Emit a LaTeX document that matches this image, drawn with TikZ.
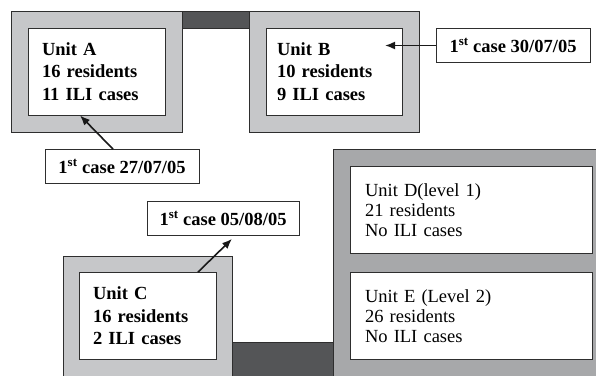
\documentclass[tikz,border=0pt]{standalone}
\usepackage{fontspec}
\setmainfont{Liberation Serif}
\usetikzlibrary{arrows.meta}
\definecolor{wing}{HTML}{C6C7C9}
\definecolor{block}{HTML}{A7A8AA}
\definecolor{link}{HTML}{545557}
\definecolor{edge}{HTML}{2E2E2E}

\begin{document}
\begin{tikzpicture}[x=1pt,y=-1pt,
    wall/.style={draw=edge, line width=0.8pt},
    unitbox/.style={draw=edge, line width=0.8pt, fill=white, inner ysep=0pt, align=left,
        minimum height=87pt, font=\fontsize{18.5}{22.5}\selectfont\bfseries},
    levelbox/.style={unitbox, font=\fontsize{18.5}{20}\selectfont},
    casebox/.style={draw=edge, line width=0.8pt, fill=white, inner sep=0pt,
        minimum height=34pt, font=\fontsize{18.5}{20}\selectfont\bfseries},
    arr/.style={-{Latex[length=10pt,width=8pt]}, line width=1.6pt, draw=black!90}]
    \useasboundingbox (0,0) rectangle (596,375);
    \clip (0,0) rectangle (596,375);
    \fill[white] (0,0) rectangle (596,375);
    % building outline
    \draw[wall, fill=wing] (11,11) rectangle (182,132);
    \draw[wall, fill=link] (182,11) rectangle (249,28);
    \draw[wall, fill=wing] (249,11) rectangle (419,132);
    \draw[wall, fill=wing] (63,256) rectangle (232,380);
    \draw[wall, fill=link] (232,342) rectangle (334,380);
    \draw[wall, fill=block] (333,149) rectangle (600,380);
    % units
    \node[unitbox, inner xsep=14pt, text width=109pt] (unitA) at (96.5,71.5)
        {Unit A\\16 residents\\11 ILI cases};
    \node[unitbox, inner xsep=11pt, text width=114pt] (unitB) at (334,71.5)
        {Unit B\\10 residents\\9 ILI cases};
    \node[unitbox, inner xsep=14pt, text width=109pt] (unitC) at (147.5,316)
        {Unit C\\16 residents\\2 ILI cases};
    \node[levelbox, inner xsep=15pt, text width=212pt] (unitD) at (471,210)
        {Unit D(level 1)\\21 residents\\No ILI cases};
    \node[levelbox, inner xsep=15pt, text width=212pt] (unitE) at (471,316)
        {Unit E (Level 2)\\26 residents\\No ILI cases};
    % first cases
    \node[casebox, minimum width=154pt] (caseA) at (122,166.5) {1\textsuperscript{st} case 27/07/05};
    \node[casebox, minimum width=154pt] (caseB) at (513,45.5) {1\textsuperscript{st} case 30/07/05};
    \node[casebox, minimum width=152pt] (caseC) at (223,218.5) {1\textsuperscript{st} case 05/08/05};
    \coordinate (tipB) at (385,45.5);
    \draw[arr] ([xshift=-9pt]caseA.north) -- ([xshift=-16.5pt]unitA.south);
    \draw[arr] (caseB.west) -- (tipB);
    \draw[arr] ([xshift=50.5pt]unitC.north) -- ([xshift=9pt,yshift=-3pt]caseC.south);
\end{tikzpicture}
\end{document}
